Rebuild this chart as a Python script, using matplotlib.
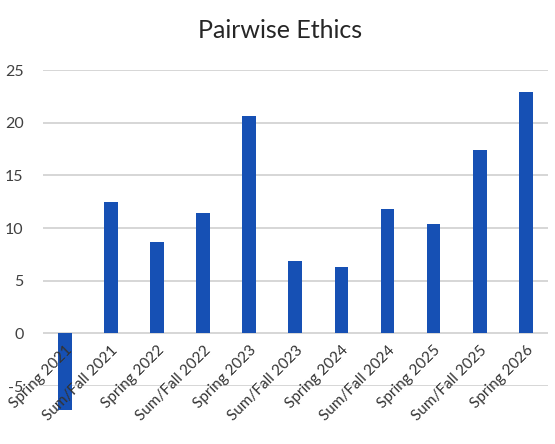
import matplotlib
matplotlib.use("Agg")
import matplotlib.pyplot as plt

categories = ["Spring 2021", "Sum/Fall 2021", "Spring 2022", "Sum/Fall 2022",
              "Spring 2023", "Sum/Fall 2023", "Spring 2024", "Sum/Fall 2024",
              "Spring 2025", "Sum/Fall 2025", "Spring 2026"]
values = [-7.3, 12.5, 8.65, 11.4, 20.6, 6.85, 6.3, 11.8, 10.35, 17.4, 22.95]
yticks = [-5, 0, 5, 10, 15, 20, 25]

plt.rcParams['font.family'] = ['Lato', 'DejaVu Sans']

fig = plt.figure(figsize=(5.55, 4.44), dpi=100)
ax = fig.add_axes([0.0775, 0.1306, 0.9095, 0.7117])

x = list(range(len(categories)))
for yv in yticks:
    ax.axhline(yv, color="#D0D0D0", linewidth=1.2, zorder=1)
ax.bar(x, values, width=0.3, color="#1650B4", zorder=2, clip_on=False)

ax.set_ylim(-5, 25)
ax.set_xlim(-0.48, len(categories) - 0.52)
ax.set_yticks(yticks)
ax.set_yticklabels([str(v) for v in yticks], fontsize=11.5, color="#404040")

# category axis crosses at 0
ax.spines["bottom"].set_position(("data", 0))
for s in ["top", "right", "left", "bottom"]:
    ax.spines[s].set_visible(False)

ax.set_xticks(x)
ax.set_xticklabels(categories, rotation=45, ha="right", rotation_mode="anchor",
                   fontsize=11, color="#333333")
ax.tick_params(axis="both", length=0)
ax.tick_params(axis="x", pad=7)
ax.tick_params(axis="y", pad=14)
ax.xaxis.set_zorder(5)
ax.yaxis.set_zorder(5)

fig.suptitle("Pairwise Ethics", fontsize=18, color="#262626", x=0.505, y=0.958)

fig.savefig("out.png", dpi=100)
